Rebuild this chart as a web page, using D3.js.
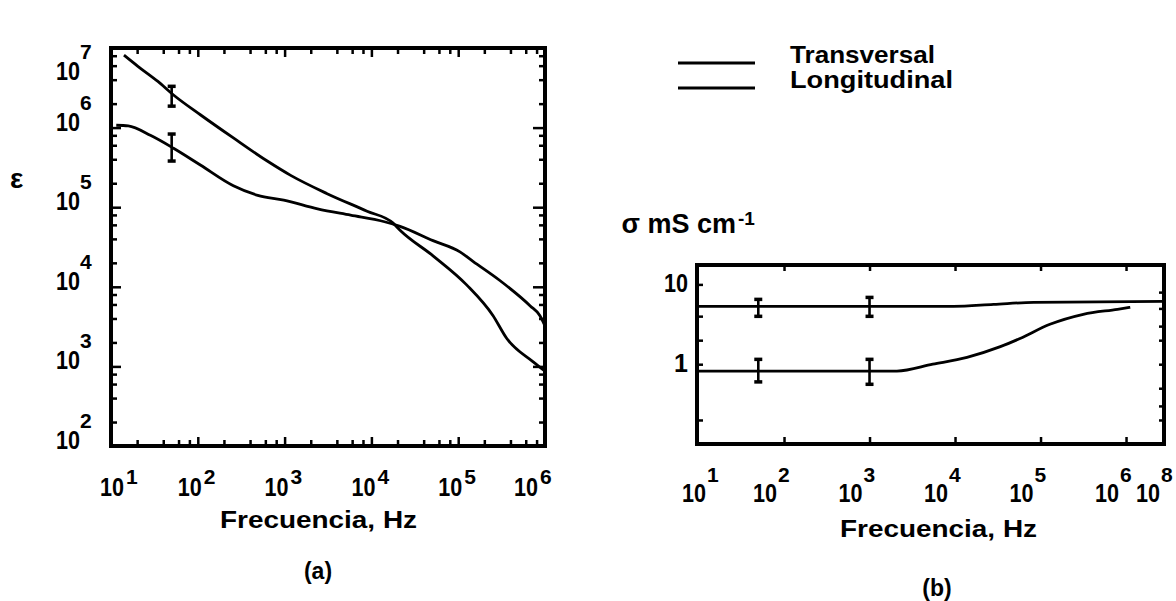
<!DOCTYPE html>
<html>
<head>
<meta charset="utf-8">
<script src="https://cdn.jsdelivr.net/npm/d3@7"></script>
<style>
  html, body { margin: 0; padding: 0; background: #fff; }
  svg text { font-family: "Liberation Sans", Arial, sans-serif; font-weight: bold; fill: #000; }
</style>
</head>
<body>
<svg id="chart" width="1176" height="601"></svg>
<script>
// ---------- (a) permittivity vs frequency ----------
const freqLongA = [14.1, 20.4, 34.7, 52.5, 107, 257, 631, 1175, 3090, 8913, 17783, 21380, 51286, 125893, 251189, 363078, 724436, 1000000];
const epsLong   = [8.13e6, 5.89e6, 3.80e6, 2.57e6, 1.45e6, 7.41e5, 3.80e5, 2.51e5, 1.48e5, 8.91e4, 6.31e4, 5.13e4, 2.45e4, 1.05e4, 4365, 2239, 1148, 871];
const freqTransA = [11.5, 15.8, 28.8, 52.5, 107, 257, 490, 977, 2399, 5754, 13804, 21380, 51286, 104713, 147911, 301995, 676083, 870964, 1000000];
const epsTrans   = [1.07e6, 1.05e6, 7.94e5, 5.50e5, 3.39e5, 1.86e5, 1.41e5, 1.23e5, 9.55e4, 7.94e4, 6.61e4, 5.75e4, 3.80e4, 2.75e4, 2.09e4, 1.20e4, 5754, 4365, 3236];
const errFreqA = [50, 50];
const errLowA  = [1.86e6, 3.8e5];
const errHighA = [3.3e6, 8.3e5];
const xExpA = [1, 2, 3, 4, 5, 6];
const yExpA = [2, 3, 4, 5, 6, 7];

// ---------- (b) conductivity vs frequency ----------
const freqLongB = [9.6, 9550, 28184, 83176, 2.78e6];
const sigmaLong = [5.31, 5.31, 5.62, 5.96, 6.13];
const freqTransB = [9.6, 2089, 5495, 13804, 33884, 57544, 128825, 316228, 794328, 1.12e6];
const sigmaTrans = [0.82, 0.82, 1.0, 1.22, 1.66, 2.10, 3.16, 4.22, 4.87, 5.16];
const errFreqB = [50, 1000, 50, 1000];
const errLowB  = [3.98, 3.98, 0.60, 0.56];
const errHighB = [6.49, 6.87, 1.15, 1.15];
const xExpB = [1, 2, 3, 4, 5, 6];
const xEndExpB = 8;
const yLabelsB = [10, 1];
const yTicksLeftB = [0.2, 1, 2, 4, 10];
const yTicksRightB = [0.2, 0.3, 0.5, 1, 2, 3, 5, 8];

const legendNames = ["Transversal", "Longitudinal"];
const minorSteps = [2, 4, 6, 8];

const svg = d3.select("#chart");

const A = { left: 111, right: 545, top: 48, bottom: 446 };
const B = { left: 697, right: 1164, top: 265, bottom: 444 };

const xA = d3.scaleLog().domain([10, 1e6]).range([A.left, A.right]);
const yA = d3.scaleLog().domain([1e2, 1e7]).range([A.bottom, A.top]);
const xB = d3.scaleLog().domain([9.6, 2.78e6]).range([B.left, B.right]);
const yB = d3.scaleLog().domain([0.1, 17.5]).range([B.bottom, B.top]);

function decadeTicks(e0, e1) {
  const major = [], minor = [];
  for (let e = e0; e <= e1; e++) {
    major.push(Math.pow(10, e));
    if (e < e1) minorSteps.forEach(k => minor.push(k * Math.pow(10, e)));
  }
  return { major, minor };
}

// inward ticks drawn with d3 axes, domain path removed
function tickSet(axisFn, scale, vals, len, tx, ty) {
  const g = svg.append("g").attr("transform", `translate(${tx},${ty})`);
  g.call(axisFn(scale).tickValues(vals).tickSize(-len).tickFormat(""));
  g.select(".domain").remove();
  g.selectAll("line").attr("stroke", "#000").attr("stroke-width", 2.5);
}

function frame(P) {
  svg.append("rect")
    .attr("x", P.left).attr("y", P.top)
    .attr("width", P.right - P.left).attr("height", P.bottom - P.top)
    .attr("fill", "none").attr("stroke", "#000").attr("stroke-width", 4);
}

function curve(xs, ys, xsc, ysc) {
  const pts = xs.map((f, i) => [xsc(f), ysc(ys[i])]);
  svg.append("path")
    .attr("d", d3.line().curve(d3.curveMonotoneX)(pts))
    .attr("fill", "none").attr("stroke", "#000")
    .attr("stroke-width", 2.8).attr("stroke-linejoin", "round");
}

function errorBars(fs, lo, hi, xsc, ysc) {
  fs.forEach((f, i) => {
    const x = xsc(f), y0 = ysc(lo[i]), y1 = ysc(hi[i]);
    const g = svg.append("g").attr("stroke", "#000").attr("stroke-width", 2.6);
    g.append("line").attr("x1", x).attr("x2", x).attr("y1", y0).attr("y2", y1);
    g.append("line").attr("x1", x - 4).attr("x2", x + 4).attr("y1", y0).attr("y2", y0).attr("stroke-width", 3.5);
    g.append("line").attr("x1", x - 4).attr("x2", x + 4).attr("y1", y1).attr("y2", y1).attr("stroke-width", 3.5);
  });
}

function powLabel(x, y, exp, supDy, anchorEnd, gap) {
  // "10" with a raised exponent; x is the left edge of "10" (or right edge if anchorEnd)
  const w = 24;
  const x0 = anchorEnd ? x - w : x;
  svg.append("text").attr("x", x0).attr("y", y)
    .attr("font-size", 25).attr("textLength", w).attr("lengthAdjust", "spacingAndGlyphs")
    .text("10");
  svg.append("text").attr("x", x0 + w + gap).attr("y", y - supDy)
    .attr("font-size", 21).text(exp);
}

// ---------- panel (a) ----------
const txA = decadeTicks(1, 6), tyA = decadeTicks(2, 7);
tickSet(d3.axisBottom, xA, txA.minor, 6, 0, A.bottom);
tickSet(d3.axisBottom, xA, txA.major, 9, 0, A.bottom);
tickSet(d3.axisTop, xA, txA.minor, 6, 0, A.top);
tickSet(d3.axisTop, xA, txA.major, 9, 0, A.top);
tickSet(d3.axisLeft, yA, tyA.minor, 6, A.left, 0);
tickSet(d3.axisLeft, yA, tyA.major, 10, A.left, 0);
tickSet(d3.axisRight, yA, tyA.minor, 6, A.right, 0);
tickSet(d3.axisRight, yA, tyA.major, 12, A.right, 0);
frame(A);

curve(freqLongA, epsLong, xA, yA);
curve(freqTransA, epsTrans, xA, yA);
errorBars(errFreqA, errLowA, errHighA, xA, yA);

yExpA.forEach(e => {
  const yy = Math.max(yA(Math.pow(10, e)) + 3, A.top + 32);
  powLabel(80, yy, String(e), 21, true, 0);
});
xExpA.forEach(e => {
  const cx = Math.min(Math.max(xA(Math.pow(10, e)), A.left + 9), A.right - 11);
  powLabel(cx - 20, 496, String(e), 12, false, 2);
});

svg.append("text").attr("x", 220).attr("y", 528).attr("font-size", 23)
  .attr("textLength", 197).attr("lengthAdjust", "spacingAndGlyphs").text("Frecuencia, Hz");
svg.append("text").attr("x", 10).attr("y", 188).attr("font-size", 28).text("ε");
svg.append("text").attr("x", 318).attr("y", 579).attr("font-size", 23)
  .attr("text-anchor", "middle").text("(a)");

// ---------- panel (b) ----------
const txB = decadeTicks(1, 6);
tickSet(d3.axisBottom, xB, txB.major.slice(1), 7, 0, B.bottom);
tickSet(d3.axisTop, xB, txB.major.slice(1), 6, 0, B.top);
tickSet(d3.axisLeft, yB, yTicksLeftB, 6, B.left, 0);
tickSet(d3.axisRight, yB, yTicksRightB, 5, B.right, 0);
frame(B);

curve(freqLongB, sigmaLong, xB, yB);
curve(freqTransB, sigmaTrans, xB, yB);
errorBars(errFreqB, errLowB, errHighB, xB, yB);

xExpB.forEach(e => {
  const cx = Math.max(xB(Math.pow(10, e)) - 12, B.left + 4);
  powLabel(cx - 19, 502, String(e), 20, false, 1);
});
// closing label sits at the right end of the axis
powLabel(xB.range()[1] - 28, 502, String(xEndExpB), 20, false, 1);

yLabelsB.forEach(v => {
  svg.append("text").attr("x", 688).attr("y", yB(v) + 8).attr("font-size", 25)
    .attr("text-anchor", "end")
    .attr("textLength", v === 10 ? 24 : null).attr("lengthAdjust", "spacingAndGlyphs")
    .text(String(v));
});

svg.append("text").attr("x", 736).attr("y", 233).attr("font-size", 27)
  .attr("text-anchor", "end").text("σ mS cm");
svg.append("text").attr("x", 738).attr("y", 225).attr("font-size", 19).text("-1");

svg.append("text").attr("x", 840).attr("y", 537).attr("font-size", 23)
  .attr("textLength", 197).attr("lengthAdjust", "spacingAndGlyphs").text("Frecuencia, Hz");
svg.append("text").attr("x", 937).attr("y", 596).attr("font-size", 23)
  .attr("text-anchor", "middle").text("(b)");

// ---------- legend ----------
const legendY = [63, 88];
const legendW = [145, 163];
legendNames.forEach((name, i) => {
  svg.append("line").attr("x1", 678).attr("x2", 755)
    .attr("y1", legendY[i]).attr("y2", legendY[i])
    .attr("stroke", "#000").attr("stroke-width", 3);
  svg.append("text").attr("x", 790).attr("y", legendY[i]).attr("font-size", 24)
    .attr("textLength", legendW[i]).attr("lengthAdjust", "spacingAndGlyphs").text(name);
});
</script>
</body>
</html>
